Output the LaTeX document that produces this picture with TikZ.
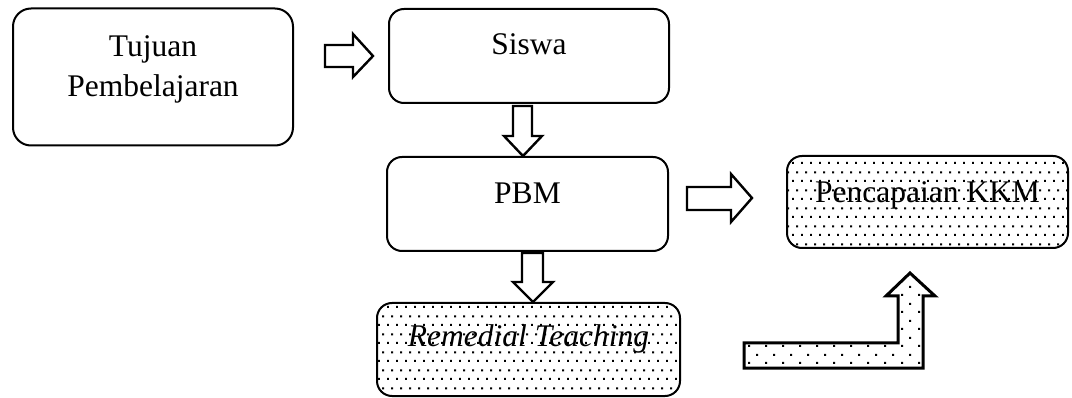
\documentclass[tikz,border=0pt]{standalone}
\usepackage{fontspec}
\setmainfont{Liberation Serif}
\usetikzlibrary{patterns.meta}

% staggered dot fills
\tikzdeclarepattern{
  name=boxdots,
  type=uncolored,
  bounding box={(0pt,0pt) and (9pt,18pt)},
  tile size={(9pt,18pt)},
  code={
    \pgfpathrectangle{\pgfpoint{0pt}{0pt}}{\pgfpoint{2.2pt}{2.2pt}}
    \pgfpathrectangle{\pgfpoint{4.5pt}{9pt}}{\pgfpoint{2.2pt}{2.2pt}}
    \pgfusepath{fill}
  }
}
\tikzdeclarepattern{
  name=arrowdots,
  type=uncolored,
  bounding box={(0pt,0pt) and (17pt,17pt)},
  tile size={(17pt,17pt)},
  code={
    \pgfpathrectangle{\pgfpoint{0pt}{0pt}}{\pgfpoint{2.2pt}{2.2pt}}
    \pgfpathrectangle{\pgfpoint{8.5pt}{8.5pt}}{\pgfpoint{2.2pt}{2.2pt}}
    \pgfusepath{fill}
  }
}

\tikzset{
  box/.style={draw, line width=2pt, rectangle, rounded corners=15pt, inner sep=0pt},
  dotbox/.style={box, pattern={boxdots}, pattern color=black},
  label text/.style={inner sep=0pt, anchor=base, font=\fontsize{31.5}{40}\selectfont},
  blockarrow/.style={draw, line width=2.4pt, fill=white, line join=miter},
  bentarrow/.style={draw, line width=3pt, pattern={arrowdots}, pattern color=black, line join=miter},
}

\begin{document}
\begin{tikzpicture}[x=1pt, y=-1pt]
\useasboundingbox (0,0) rectangle (1072,398);

% boxes
\node[box, rounded corners=18pt, minimum width=280pt, minimum height=137pt] (tujuan) at (153,77) {};
\node[box, minimum width=280pt, minimum height=94pt] (siswa) at (529,56) {};
\node[box, minimum width=281pt, minimum height=94pt] (pbm) at (527.5,204) {};
\node[dotbox, minimum width=281pt, minimum height=92pt] (kkm) at (927.5,202) {};
\node[dotbox, minimum width=303pt, minimum height=93pt] (remedial) at (528.5,349.5) {};

% box texts
\node[label text] (tujuanA) at (153,57) {Tujuan};
\node[label text] (tujuanB) at (153,97) {Pembelajaran};
\node[label text] (siswaT) at (529,55) {Siswa};
\node[label text] (pbmT) at (527.5,204) {PBM};
\node[label text] (kkmT) at (927.5,203) {Pencapaian KKM};
\node[label text] (remedialT) at (528.5,347) {\itshape Remedial Teaching};

% block arrows
\draw[blockarrow] (325,45) -- (353,45) -- (353,34) -- (373,56) -- (353,77) -- (353,67) -- (325,67) -- cycle;
\draw[blockarrow] (513,106) -- (532,106) -- (532,136) -- (542,136) -- (523,156) -- (504,136) -- (513,136) -- cycle;
\draw[blockarrow] (687,187) -- (731,187) -- (731,174) -- (752,198) -- (731,222) -- (731,210) -- (687,210) -- cycle;
\draw[blockarrow] (522,253) -- (543,253) -- (543,282) -- (553,282) -- (533,302) -- (513,282) -- (522,282) -- cycle;

% bent arrow towards the KKM box
\draw[bentarrow] (744,343) -- (898,343) -- (898,296) -- (886,296) -- (910,273) -- (935,296) -- (923,296) -- (923,368) -- (744,368) -- cycle;
\end{tikzpicture}
\end{document}
